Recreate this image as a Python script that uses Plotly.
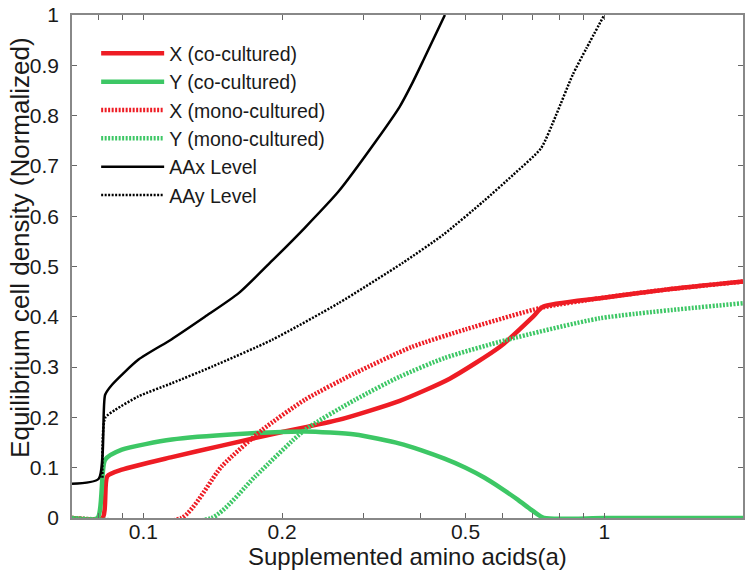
import plotly.graph_objects as go

# ---- data ----
x_co_x = [0.07, 0.0815, 0.0835, 0.0898, 0.1153, 0.148, 0.2, 0.265, 0.36, 0.462, 0.595, 0.70, 0.736, 0.978, 1.36, 2.0]
x_co_y = [0, 0, 0.083, 0.096, 0.121, 0.144, 0.171, 0.195, 0.233, 0.277, 0.341, 0.40, 0.42, 0.437, 0.454, 0.470]

y_co_x = [0.07, 0.0795, 0.0826, 0.0898, 0.1153, 0.161, 0.224, 0.288, 0.36, 0.40, 0.45, 0.5, 0.55, 0.6, 0.65, 0.7, 0.74, 1.0, 2.0]
y_co_y = [0, 0, 0.116, 0.136, 0.156, 0.167, 0.172, 0.166, 0.148, 0.135, 0.118, 0.10, 0.08, 0.058, 0.036, 0.014, 0, 0, 0]

x_mono_x = [0.07, 0.121, 0.148, 0.181, 0.224, 0.288, 0.382, 0.50, 0.73, 0.978, 1.36, 2.0]
x_mono_y = [0, 0, 0.103, 0.175, 0.235, 0.288, 0.340, 0.375, 0.418, 0.437, 0.454, 0.470]

y_mono_x = [0.07, 0.1406, 0.175, 0.224, 0.288, 0.36, 0.45, 0.614, 0.978, 2.0]
y_mono_y = [0, 0, 0.083, 0.175, 0.235, 0.281, 0.318, 0.354, 0.397, 0.427]

aax_x = [0.07, 0.08, 0.0826, 0.0855, 0.0976, 0.115, 0.136, 0.161, 0.19, 0.224, 0.265, 0.32, 0.36, 0.382, 0.405, 0.451]
aax_y = [0.068, 0.078, 0.245, 0.265, 0.315, 0.355, 0.40, 0.447, 0.511, 0.577, 0.649, 0.75, 0.818, 0.862, 0.91, 1.0]

aay_x = [0.0815, 0.0826, 0.0869, 0.0976, 0.1153, 0.141, 0.19, 0.265, 0.365, 0.447, 0.546, 0.634, 0.729, 0.786, 0.854, 0.915, 1.0]
aay_y = [0.08, 0.199, 0.215, 0.242, 0.268, 0.301, 0.354, 0.427, 0.507, 0.563, 0.629, 0.682, 0.735, 0.801, 0.881, 0.934, 1.0]

x_major_ticks = [0.1, 0.2, 0.5, 1, 2]
x_major_labels = ["0.1", "0.2", "0.5", "1", "2"]
x_minor_ticks = [0.07, 0.08, 0.09, 0.3, 0.4, 0.6, 0.7, 0.8, 0.9]
y_ticks = [0, 0.1, 0.2, 0.3, 0.4, 0.5, 0.6, 0.7, 0.8, 0.9, 1]
y_labels = ["0", "0.1", "0.2", "0.3", "0.4", "0.5", "0.6", "0.7", "0.8", "0.9", "1"]

RED = "#ee1c24"
GREEN = "#3dc765"
DOT = "2px,1.5px"
SM = 0.6

fig = go.Figure()
fig.add_trace(go.Scatter(x=x_co_x, y=x_co_y, mode="lines", name="X (co-cultured)",
                         line=dict(color=RED, width=4.5, shape="spline", smoothing=SM)))
fig.add_trace(go.Scatter(x=y_co_x, y=y_co_y, mode="lines", name="Y (co-cultured)",
                         line=dict(color=GREEN, width=4.5, shape="spline", smoothing=SM)))
fig.add_trace(go.Scatter(x=x_mono_x, y=x_mono_y, mode="lines", name="X (mono-cultured)",
                         line=dict(color=RED, width=4.5, dash=DOT, shape="spline", smoothing=SM)))
fig.add_trace(go.Scatter(x=y_mono_x, y=y_mono_y, mode="lines", name="Y (mono-cultured)",
                         line=dict(color=GREEN, width=4.5, dash=DOT, shape="spline", smoothing=SM)))
fig.add_trace(go.Scatter(x=aax_x, y=aax_y, mode="lines", name="AAx Level",
                         line=dict(color="black", width=2.5, shape="spline", smoothing=SM)))
fig.add_trace(go.Scatter(x=aay_x, y=aay_y, mode="lines", name="AAy Level",
                         line=dict(color="black", width=2.5, dash=DOT, shape="spline", smoothing=SM)))

FONT = "Liberation Sans, Arial, sans-serif"
fig.update_layout(
    width=747, height=571,
    margin=dict(l=72, r=4, t=15, b=53),
    paper_bgcolor="white", plot_bgcolor="white",
    font=dict(family=FONT, size=20, color="#1a1a1a"),
    showlegend=True,
    legend=dict(x=0.036, y=0.962, xanchor="left", yanchor="top",
                bgcolor="rgba(0,0,0,0)", borderwidth=0,
                font=dict(size=19.5), itemwidth=63, tracegroupgap=0),
    xaxis=dict(type="log", range=[-1.1549, 0.30103], automargin=False,
               tickvals=x_major_ticks, ticktext=x_major_labels,
               ticks="inside", ticklen=5, tickcolor="#666",
               minor=dict(tickvals=x_minor_ticks, ticks="inside", ticklen=5, tickcolor="#666"),
               showgrid=False, zeroline=False,
               showline=True, linecolor="#888", linewidth=1.5, mirror="allticks",
               tickfont=dict(size=21), ticklabelstandoff=-6),
    yaxis=dict(range=[0, 1], tickvals=y_ticks, ticktext=y_labels, automargin=False,
               ticks="inside", ticklen=5, tickcolor="#666",
               showgrid=False, zeroline=False,
               showline=True, linecolor="#888", linewidth=1.5, mirror="allticks",
               tickfont=dict(size=21), ticklabelstandoff=7),
    annotations=[
        dict(text="Supplemented amino acids(a)", xref="paper", yref="paper",
             x=0.5, y=0, xanchor="center", yanchor="top", yshift=-23,
             showarrow=False, font=dict(size=24)),
        dict(text="Equilibrium cell density (Normalized)", xref="paper", yref="paper",
             x=0, y=0.537, xanchor="center", yanchor="middle", xshift=-52, textangle=-90,
             showarrow=False, font=dict(size=26)),
    ],
)

fig.write_html("out.html", config={"displayModeBar": False},
               post_script="document.body.style.margin='0';document.body.style.overflow='hidden';")
